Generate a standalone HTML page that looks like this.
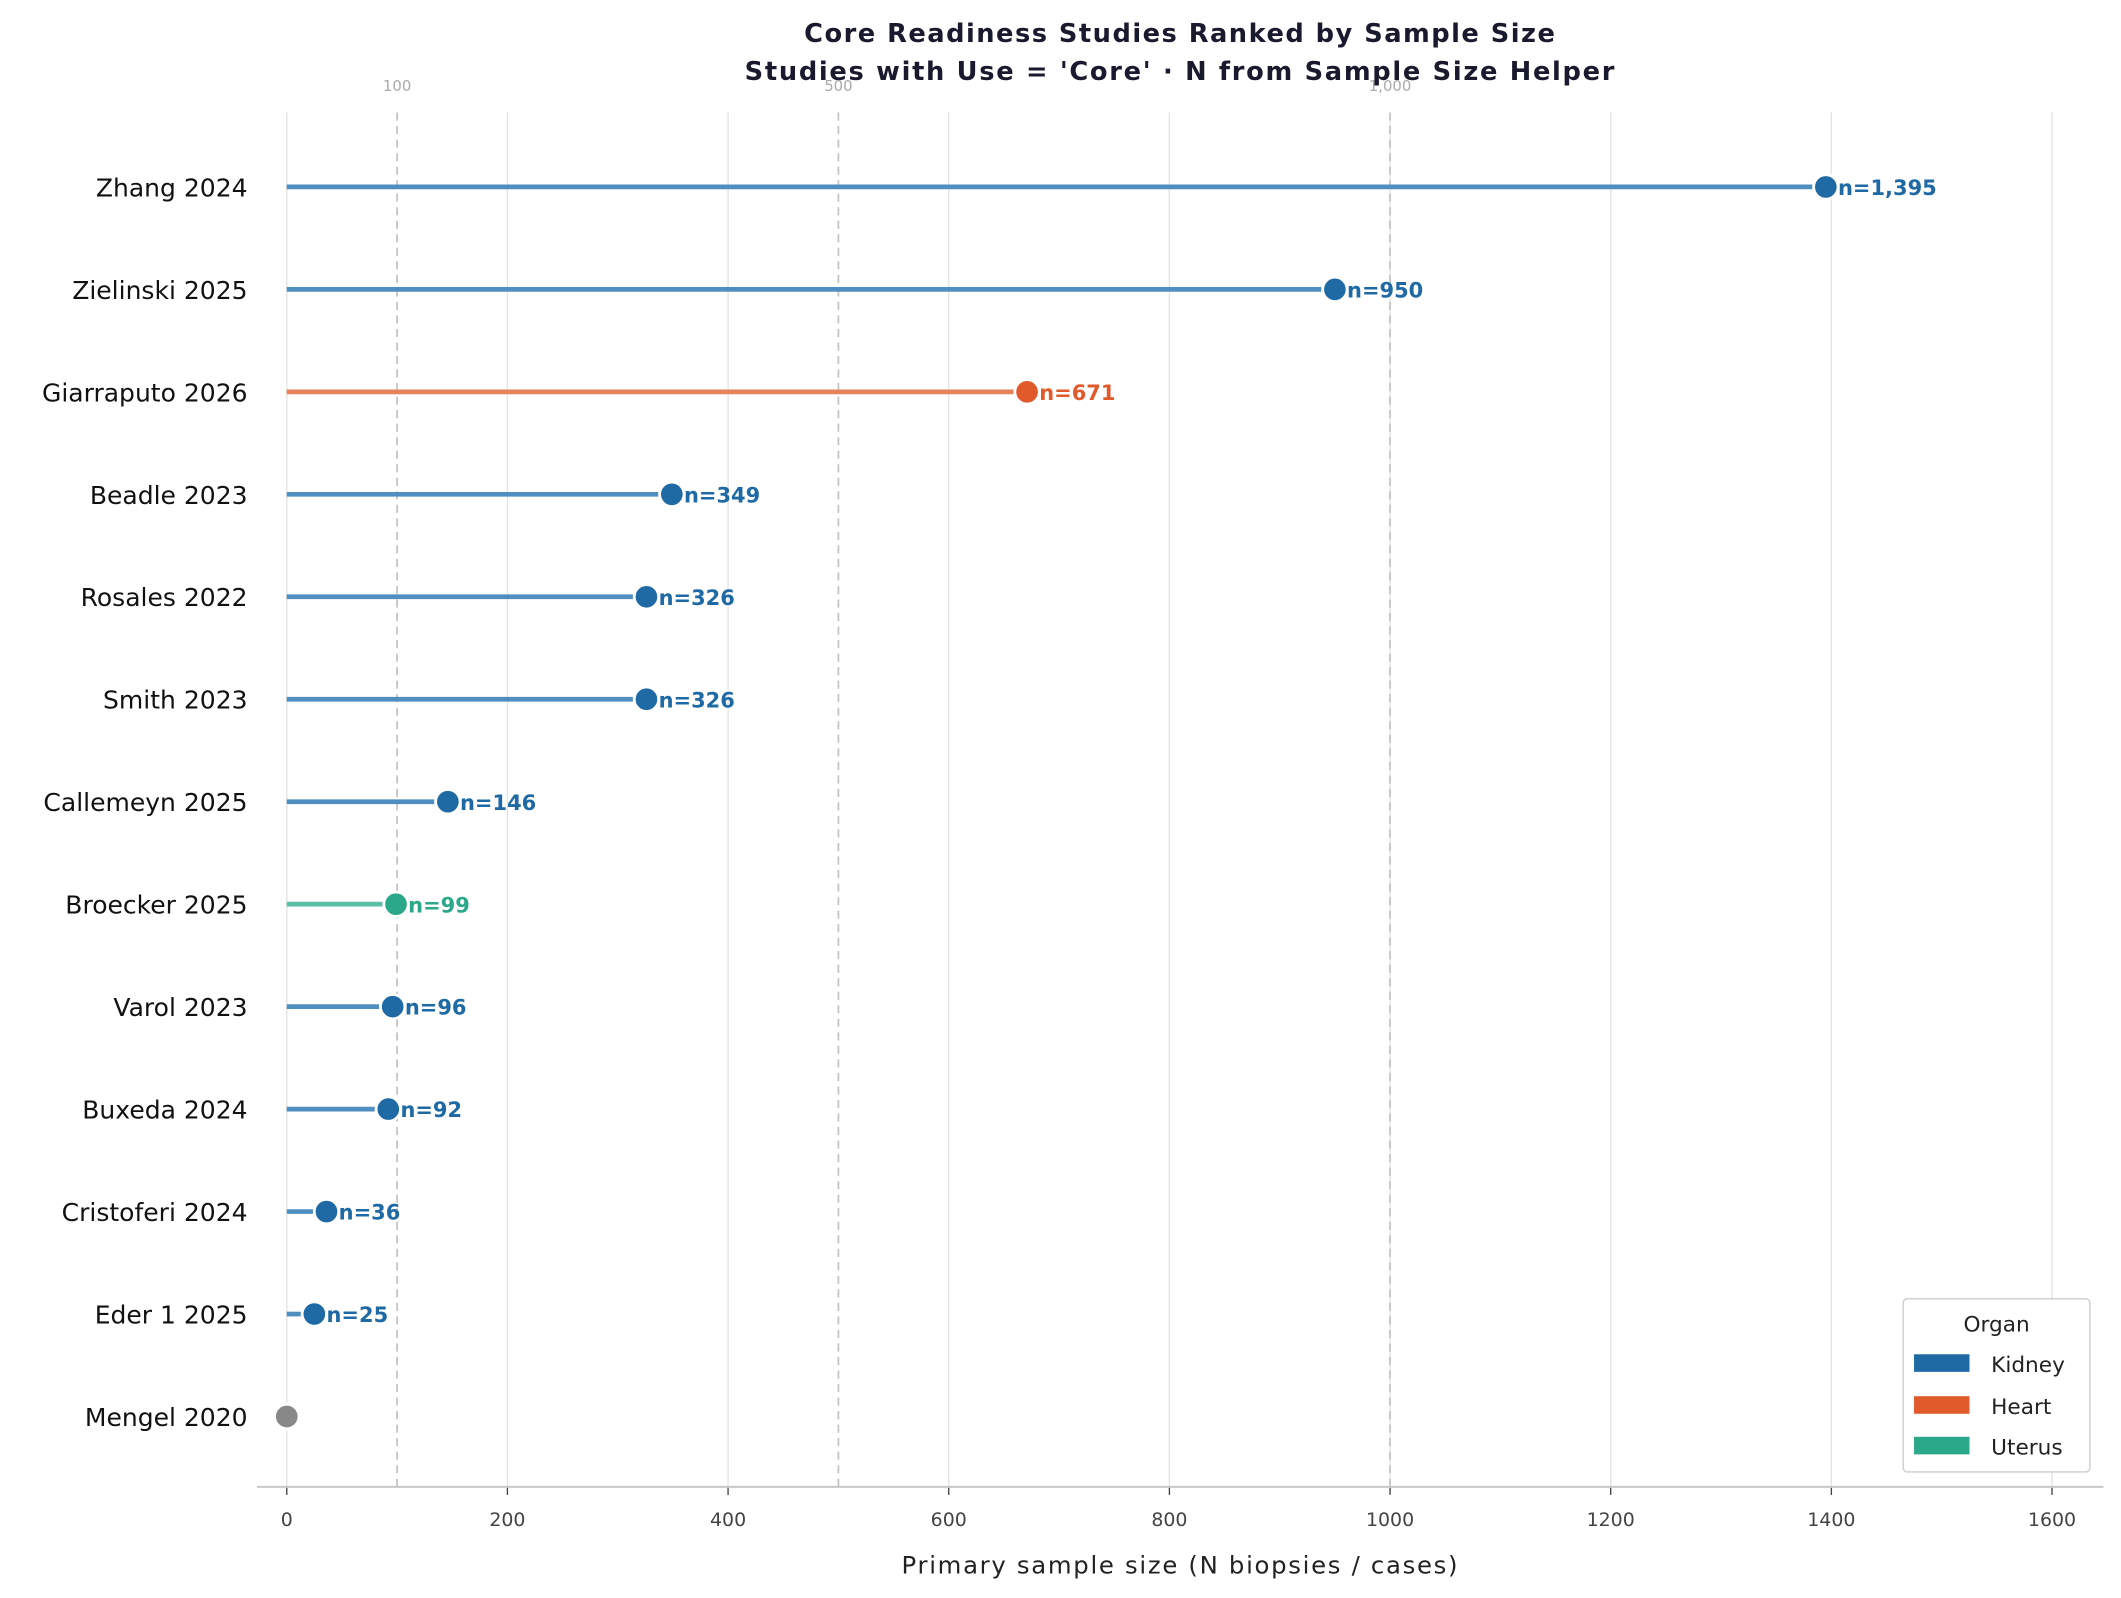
<!DOCTYPE html>
<html><head><meta charset="utf-8"><style>body{margin:0;background:#fff}svg{display:block;font-family:"DejaVu Sans","Liberation Sans",sans-serif}</style></head>
<body>
<svg id="chart" width="2121" height="1598" viewBox="0 0 1568 1181" xmlns="http://www.w3.org/2000/svg">
<rect width="1568" height="1181" fill="#fff"/>
<text x="872" y="31" text-anchor="middle" font-size="19" font-weight="bold" fill="#1a1a2e" textLength="555">Core Readiness Studies Ranked by Sample Size</text>
<text x="872" y="59" text-anchor="middle" font-size="19" font-weight="bold" fill="#1a1a2e" textLength="643">Studies with Use = 'Core'  ·  N from Sample Size Helper</text>
<g id="grid"></g><g id="marks"></g>
<line x1="190" x2="1555" y1="1099" y2="1099" stroke="#c8c8c8" stroke-width="1.5"/>
<text x="872" y="1163" text-anchor="middle" font-size="18" fill="#222" textLength="411">Primary sample size (N biopsies / cases)</text>
<g>
<rect x="1407" y="960" width="138" height="128" rx="3" fill="#fff" stroke="#ccc"/>
<text x="1476" y="984" text-anchor="middle" font-size="16" fill="#222">Organ</text>
<rect x="1415" y="1001" width="41" height="13" fill="#1f6aa5"/><text x="1472" y="1014" font-size="16" fill="#222">Kidney</text>
<rect x="1415" y="1032" width="41" height="13" fill="#e05a2b"/><text x="1472" y="1045" font-size="16" fill="#222">Heart</text>
<rect x="1415" y="1062" width="41" height="13" fill="#2aa889"/><text x="1472" y="1075" font-size="16" fill="#222">Uterus</text>
</g>
</svg>
<script>
const studies=["Zhang 2024","Zielinski 2025","Giarraputo 2026","Beadle 2023","Rosales 2022","Smith 2023","Callemeyn 2025","Broecker 2025","Varol 2023","Buxeda 2024","Cristoferi 2024","Eder 1 2025","Mengel 2020"];
const sampleSizes=[1395,950,671,349,326,326,146,99,96,92,36,25,0];
const organs=["Kidney","Kidney","Heart","Kidney","Kidney","Kidney","Kidney","Uterus","Kidney","Kidney","Kidney","Kidney","None"];
const xTicks=[0,200,400,600,800,1000,1200,1400,1600];
const refLines=[100,500,1000];
const refLabels=["100","500","1,000"];
const NS="http://www.w3.org/2000/svg";
const xs=v=>212+v*(1517-212)/1600;
const ys=i=>138+i*(1047-138)/12;
const dotC={Kidney:"#1f6aa5",Heart:"#e05a2b",Uterus:"#2aa889",None:"#888"};
const lineC={Kidney:"#4f8fc0",Heart:"#e8825c",Uterus:"#5cbfa5",None:"#aaa"};
function mk(t,a,p){const e=document.createElementNS(NS,t);for(const k in a)e.setAttribute(k,a[k]);p.appendChild(e);return e;}
const g=document.getElementById('grid'),m=document.getElementById('marks');
xTicks.forEach(t=>{
const l=mk('line',{x1:xs(t),x2:xs(t),y1:83,y2:1099,stroke:'#e3e3e3','stroke-width':1},g);


mk('line',{x1:xs(t),x2:xs(t),y1:1099,y2:1105,stroke:'#444'},g);
const tx=mk('text',{x:xs(t),y:1128,'text-anchor':'middle','font-size':14,fill:'#444'},g);tx.textContent=t;


});
refLines.forEach((r,i)=>{
const l=mk('line',{x1:xs(r),x2:xs(r),y1:83,y2:1099,stroke:'#c4c4c4','stroke-width':1.3,'stroke-dasharray':'6,4'},g);


const tx=mk('text',{x:xs(r),y:67,'text-anchor':'middle','font-size':11,fill:'#aaa'},g);tx.textContent=refLabels[i];


});
studies.forEach((s,i)=>{
const y=ys(i),v=sampleSizes[i],o=organs[i];
const lb=mk('text',{x:183,y:y+7,'text-anchor':'end','font-size':18.5,fill:'#111'},m);lb.textContent=s;


if(v>0){const ln=mk('line',{x1:xs(0),x2:xs(v)-10,y1:y,y2:y,stroke:lineC[o],'stroke-width':3.5},m);

}
const c=mk('circle',{cx:xs(v),cy:y,r:9,fill:dotC[o],stroke:'#fff','stroke-width':2},m);


if(v>0){const t=mk('text',{x:xs(v)+9,y:y+6,'font-size':15.5,'font-weight':'bold',fill:dotC[o]},m);t.textContent='n='+v.toLocaleString('en-US');

}
});
</script>
</body></html>
